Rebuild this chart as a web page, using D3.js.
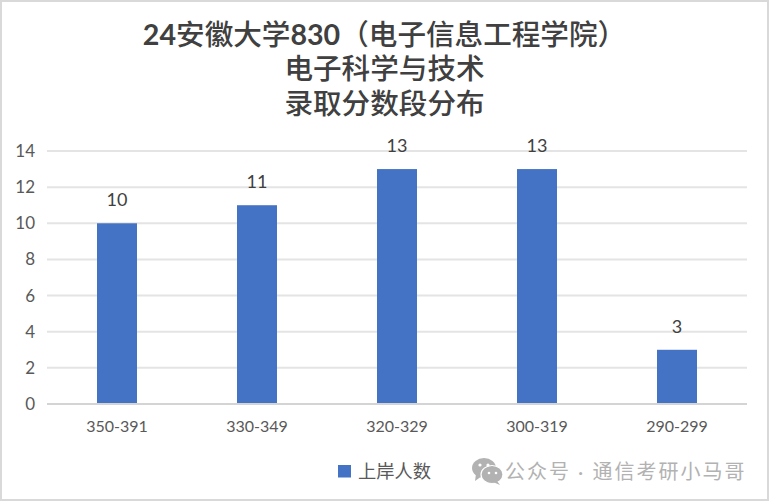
<!DOCTYPE html>
<html lang="zh">

<head>
    <meta charset="UTF-8">
    <script src="https://d3js.org/d3.v7.min.js"></script>
    <title>录取分数段分布</title>
    <style>
        html, body { margin: 0; padding: 0; background: #fff; }
        svg { display: block; }
        text { font-family: Lato, "Noto Sans CJK SC", sans-serif; }
        .axis path, .axis line { display: none; }
        .grid-line { stroke: #e4e4e4; stroke-width: 2px; }
        .base-line { stroke: #d4d4d4; stroke-width: 2px; }
    </style>
</head>

<body>
    <div id="container"></div>
    <script>
        var categories = ['350-391', '330-349', '320-329', '300-319', '290-299'];
        var values = [10, 11, 13, 13, 3];
        var yTicks = [0, 2, 4, 6, 8, 10, 12, 14];
        var titleLines = ['24安徽大学830（电子信息工程学院）', '电子科学与技术', '录取分数段分布'];
        var seriesName = '上岸人数';
        var watermark = '公众号 · 通信考研小马哥';

        var W = 770, H = 502;
        var margin = { top: 151, right: 23, bottom: 98, left: 47 },
            width = W - margin.left - margin.right,
            height = H - margin.top - margin.bottom;

        var svg = d3.select('#container').append('svg')
            .attr('width', W)
            .attr('height', H);

        // frame of the screenshot
        svg.append('rect')
            .attr('x', 1).attr('y', 1)
            .attr('width', W - 3).attr('height', H - 3)
            .attr('fill', '#fff')
            .attr('stroke', '#d9d9d9')
            .attr('stroke-width', 2);

        // title
        svg.append('g').selectAll('text')
            .data(titleLines)
            .enter().append('text')
            .attr('x', 384.5)
            .attr('y', function (d, i) { return [45, 78.5, 113.5][i]; })
            .attr('text-anchor', 'middle')
            .attr('font-size', '28.6px')
            .attr('font-weight', 500)
            .attr('fill', '#404040')
            .each(function (d) {
                // digits are bold, the rest is regular
                var t = d3.select(this);
                d.split(/(\d+)/).filter(Boolean).forEach(function (part) {
                    var isNum = /^\d+$/.test(part);
                    t.append('tspan')
                        .attr('font-weight', isNum ? 700 : 500)
                        .text(part);
                });
            });

        var g = svg.append('g')
            .attr('transform', 'translate(' + margin.left + ',' + margin.top + ')');

        var x = d3.scaleBand().domain(categories).range([0, width]).paddingInner(100 / 140).paddingOuter(50 / 140);
        var y = d3.scaleLinear().domain([0, 14]).range([height, 0]);

        // grid lines
        g.selectAll('.grid-line')
            .data(yTicks.filter(function (d) { return d > 0; }))
            .enter().append('line')
            .attr('class', 'grid-line')
            .attr('x1', 0).attr('x2', width)
            .attr('y1', function (d) { return y(d); })
            .attr('y2', function (d) { return y(d); });

        g.append('line')
            .attr('class', 'base-line')
            .attr('x1', 0).attr('x2', width)
            .attr('y1', y(0)).attr('y2', y(0));

        // bars
        g.selectAll('.bar')
            .data(values)
            .enter().append('rect')
            .attr('class', 'bar')
            .attr('x', function (d, i) { return x(categories[i]); })
            .attr('y', function (d) { return y(d); })
            .attr('width', x.bandwidth())
            .attr('height', function (d) { return y(0) - y(d) - 1; })
            .attr('fill', '#4472c4');

        // value labels
        g.selectAll('.value')
            .data(values)
            .enter().append('text')
            .attr('class', 'value')
            .attr('x', function (d, i) { return x(categories[i]) + x.bandwidth() / 2; })
            .attr('y', function (d) { return y(d) - 17; })
            .attr('text-anchor', 'middle')
            .attr('font-size', '18px')
            .attr('fill', '#404040')
            .text(function (d) { return d; });

        // axes
        var xAxis = g.append('g')
            .attr('class', 'axis')
            .attr('transform', 'translate(0,' + height + ')')
            .call(d3.axisBottom(x).tickSize(0).tickPadding(17));
        xAxis.selectAll('text')
            .style('font-family', 'Lato')
            .attr('font-size', '16px')
            .attr('fill', '#595959');

        var yAxis = g.append('g')
            .attr('class', 'axis')
            .call(d3.axisLeft(y).tickValues(yTicks).tickSize(0).tickPadding(12));
        yAxis.selectAll('text')
            .style('font-family', 'Lato')
            .attr('font-size', '17px')
            .attr('fill', '#595959');

        // legend
        svg.append('rect')
            .attr('x', 338).attr('y', 465)
            .attr('width', 13).attr('height', 12.5)
            .attr('fill', '#4472c4');
        svg.append('text')
            .attr('x', 358).attr('y', 478)
            .attr('font-size', '18.3px')
            .attr('fill', '#595959')
            .text(seriesName);

        // wechat watermark icon
        var icon = svg.append('g').attr('fill', '#b2b2b2');
        icon.append('ellipse').attr('cx', 484).attr('cy', 468).attr('rx', 12).attr('ry', 10);
        icon.append('path').attr('d', 'M476 474 L475 481 L482 476 Z');
        icon.append('ellipse').attr('cx', 492).attr('cy', 474.5).attr('rx', 11).attr('ry', 9)
            .attr('stroke', '#fff').attr('stroke-width', 1.2);
        icon.append('path').attr('d', 'M497 481 L500 485 L493 482 Z');
        [[480, 465], [488, 465], [489, 473], [496, 473]].forEach(function (p, i) {
            icon.append('circle').attr('cx', p[0]).attr('cy', p[1]).attr('r', i < 2 ? 1.6 : 1.3).attr('fill', '#fff');
        });

        svg.append('text')
            .attr('x', 505).attr('y', 479)
            .attr('font-size', '20px')
            .attr('letter-spacing', '2px')
            .attr('fill', '#b2b2b2')
            .text(watermark);
    </script>
</body>

</html>
